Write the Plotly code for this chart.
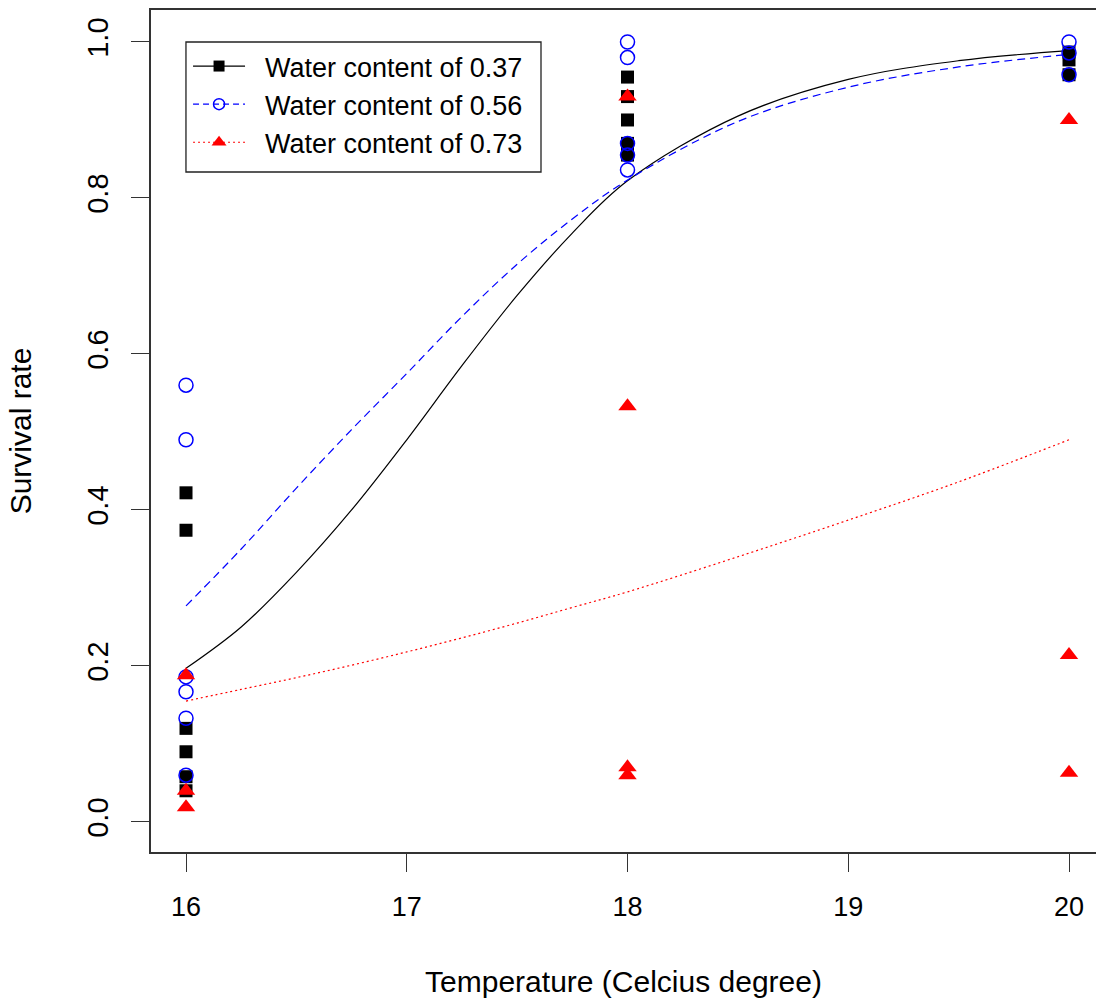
import plotly.graph_objects as go

# ---- data ----
x_037 = [16, 16, 16, 16, 16, 16, 18, 18, 18, 18, 18, 20, 20, 20]
y_037 = [0.422, 0.374, 0.120, 0.090, 0.058, 0.040, 0.955, 0.930, 0.900, 0.870, 0.855, 0.987, 0.977, 0.958]

x_056 = [16, 16, 16, 16, 16, 16, 18, 18, 18, 18, 18, 20, 20, 20]
y_056 = [0.560, 0.490, 0.186, 0.167, 0.133, 0.060, 1.000, 0.980, 0.870, 0.855, 0.836, 1.000, 0.986, 0.958]

x_073 = [16, 16, 16, 18, 18, 18, 18, 20, 20, 20]
y_073 = [0.188, 0.040, 0.019, 0.930, 0.533, 0.070, 0.060, 0.900, 0.214, 0.063]

# fitted curves
curve_x = [16, 16.25, 16.5, 16.75, 17, 17.25, 17.5, 17.75, 18, 18.5, 19, 19.5, 20]
curve_037 = [0.197, 0.250, 0.320, 0.400, 0.490, 0.585, 0.675, 0.755, 0.822, 0.905, 0.952, 0.976, 0.989]
curve_056 = [0.277, 0.350, 0.428, 0.503, 0.575, 0.648, 0.715, 0.773, 0.823, 0.898, 0.942, 0.968, 0.984]
curve_073 = [0.155, 0.170, 0.185, 0.201, 0.218, 0.236, 0.255, 0.275, 0.295, 0.340, 0.387, 0.436, 0.490]

labels = ["Water content of 0.37", "Water content of 0.56", "Water content of 0.73"]
x_ticks = [16, 17, 18, 19, 20]
y_ticks = [0.0, 0.2, 0.4, 0.6, 0.8, 1.0]
y_ticktext = ["0.0", "0.2", "0.4", "0.6", "0.8", "1.0"]

BLACK = "black"
BLUE = "#0000FF"
RED = "#FF0000"
FONT = "Liberation Sans, Arial, sans-serif"
PAD = "\u00a0\u00a0"

fig = go.Figure()

# curves
fig.add_trace(go.Scatter(x=curve_x, y=curve_037, mode="lines", line=dict(color=BLACK, width=1.2, shape="spline"), showlegend=False))
fig.add_trace(go.Scatter(x=curve_x, y=curve_056, mode="lines", line=dict(color=BLUE, width=1.2, dash="8px,5px", shape="spline"), showlegend=False))
fig.add_trace(go.Scatter(x=curve_x, y=curve_073, mode="lines", line=dict(color=RED, width=1.2, dash="2px,3px", shape="spline"), showlegend=False))

# points
fig.add_trace(go.Scatter(x=x_037, y=y_037, mode="markers", marker=dict(symbol="square", size=13, color=BLACK, line=dict(width=0)), showlegend=False))
fig.add_trace(go.Scatter(x=x_056, y=y_056, mode="markers", marker=dict(symbol="circle-open", size=14, color=BLUE, line=dict(width=1.5, color=BLUE)), showlegend=False))
fig.add_trace(go.Scatter(x=x_073, y=y_073, mode="markers", marker=dict(symbol="triangle-up", size=16, color=RED, line=dict(width=0)), showlegend=False))

# legend entries
fig.add_trace(go.Scatter(x=[None], y=[None], mode="lines+markers", name=PAD + labels[0],
                         line=dict(color=BLACK, width=1.2), marker=dict(symbol="square", size=11, color=BLACK)))
fig.add_trace(go.Scatter(x=[None], y=[None], mode="lines+markers", name=PAD + labels[1],
                         line=dict(color=BLUE, width=1.2, dash="6px,4px"), marker=dict(symbol="circle-open", size=11, color=BLUE, line=dict(width=1.5))))
fig.add_trace(go.Scatter(x=[None], y=[None], mode="lines+markers", name=PAD + labels[2],
                         line=dict(color=RED, width=1.2, dash="2px,3px"), marker=dict(symbol="triangle-up", size=13, color=RED)))

fig.update_layout(
    width=1096, height=998,
    margin=dict(l=151, r=0, t=10, b=146),
    paper_bgcolor="white", plot_bgcolor="white",
    font=dict(family=FONT, size=26, color="black"),
    showlegend=True,
    legend=dict(x=0.0392, y=0.962, xanchor="left", yanchor="top",
                borderwidth=0, bgcolor="rgba(0,0,0,0)",
                font=dict(size=27), tracegroupgap=0, itemwidth=52),
    shapes=[dict(type="rect", xref="paper", yref="paper",
                 x0=0.0370, x1=0.4127, y0=0.8076, y1=0.962,
                 line=dict(color="#222222", width=1.3), fillcolor="white", layer="below")],
)
fig.update_xaxes(
    range=[15.8414, 20.1223], tickvals=x_ticks, ticktext=[str(v) for v in x_ticks],
    showgrid=False, zeroline=False, showline=True, linecolor="#333333", linewidth=1.5,
    mirror=True, ticks="outside", ticklen=18, tickcolor="#333333", tickwidth=1.2,
    ticklabelstandoff=12,
    tickfont=dict(size=27), title=dict(text="Temperature (Celcius degree)", font=dict(size=30), standoff=50),
)
fig.update_yaxes(
    range=[-0.0385, 1.041], tickvals=y_ticks, ticktext=y_ticktext,
    showgrid=False, zeroline=False, showline=True, linecolor="#333333", linewidth=1.5,
    ticks="outside", ticklen=18, tickcolor="#333333", tickwidth=1.2, tickangle=-90,
    ticklabelstandoff=12,
    tickfont=dict(size=29), title=dict(text="Survival rate", font=dict(size=30), standoff=41),
)

fig.write_html("out.html")
